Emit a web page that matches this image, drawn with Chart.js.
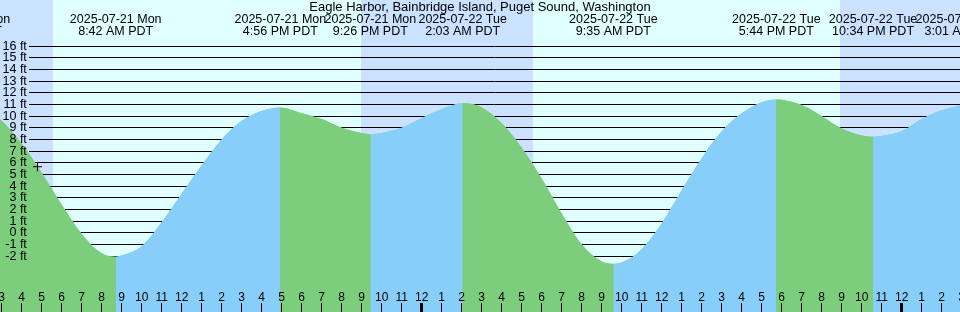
<!DOCTYPE html>
<html>
<head>
<meta charset="utf-8">
<style>
  html, body { margin: 0; padding: 0; background: #e0ffff; }
</style>
</head>
<body>
<canvas id="tideChart" width="960" height="312"></canvas>
<script src="https://cdn.jsdelivr.net/npm/chart.js@4.4.0/dist/chart.umd.min.js"></script>
<script>
const FONT = "'Liberation Sans', Arial, sans-serif";
const DAY = "#e0ffff";
const NIGHT = "#cae1ff";
const FLOOD = "#87cefa";
const EBB = "#7ccd7c";

// time axis is in hours counted from 2025-07-21 3:00 AM PDT
const tideHours = [-1, 0, 1, 2, 3, 4, 5, 5.7, 6, 7, 8, 9, 10, 11, 12, 13, 13.933,
  15, 16, 17, 18, 18.433, 19, 20, 21, 22, 23.05, 24, 25, 26, 27, 28, 29, 30, 30.583,
  31, 32, 33, 34, 35, 36, 37, 38, 38.733, 39, 40, 41, 42, 43, 43.567, 44, 45, 46, 47, 48.017];
const tideFeet = [11.0, 9.6, 7.65, 5.15, 2.4, -0.1, -1.75, -2.05, -1.95, -1.15, 0.9, 3.35, 5.8, 8.0, 9.6, 10.45, 10.75,
  10.25, 9.75, 9.0, 8.55, 8.45, 8.55, 9.0, 9.85, 10.6, 11.1, 10.75, 9.4, 7.3, 4.65, 1.65, -1.0, -2.45, -2.65,
  -2.55, -1.4, 0.8, 3.65, 6.4, 8.7, 10.25, 11.2, 11.43, 11.4, 10.95, 10.0, 8.95, 8.35, 8.23, 8.3, 8.7, 9.75, 10.5, 10.97];

// "+" mark on the curve
const markHour = [1.79];
const markFeet = [5.67];

const eventHours = [-1.87, 5.7, 13.933, 18.433, 23.05, 30.583, 38.733, 43.567, 48.017];
const eventDates = ["2025-07-21 Mon", "2025-07-21 Mon", "2025-07-21 Mon", "2025-07-21 Mon",
  "2025-07-22 Tue", "2025-07-22 Tue", "2025-07-22 Tue", "2025-07-22 Tue", "2025-07-23 Wed"];
const eventTimes = ["1:08 AM PDT", "8:42 AM PDT", "4:56 PM PDT", "9:26 PM PDT",
  "2:03 AM PDT", "9:35 AM PDT", "5:44 PM PDT", "10:34 PM PDT", "3:01 AM PDT"];

const nightStart = [-1, 17.97, 41.915];
const nightEnd = [2.57, 26.55, 49];

const hourLabels = ["3", "4", "5", "6", "7", "8", "9", "10", "11", "12", "1", "2",
  "3", "4", "5", "6", "7", "8", "9", "10", "11", "12", "1", "2",
  "3", "4", "5", "6", "7", "8", "9", "10", "11", "12", "1", "2",
  "3", "4", "5", "6", "7", "8", "9", "10", "11", "12", "1", "2", "3"];
const feetTicks = [-2, -1, 0, 1, 2, 3, 4, 5, 6, 7, 8, 9, 10, 11, 12, 13, 14, 15, 16];

const tidePoints = tideHours.map((h, i) => ({ x: h, y: tideFeet[i] }));

// axes take no room: everything is drawn over the plot like xtide does
const flat = (scale) => {
  if (scale.isHorizontal()) scale.height = 0;
  else scale.width = 0;
  scale.paddingLeft = scale.paddingRight = scale.paddingTop = scale.paddingBottom = 0;
};

const dayNight = {
  id: "dayNight",
  beforeDraw(chart) {
    const { ctx, chartArea, scales: { x } } = chart;
    ctx.save();
    ctx.fillStyle = DAY;
    ctx.fillRect(0, 0, chart.width, chart.height);
    ctx.fillStyle = NIGHT;
    nightStart.forEach((s, i) => {
      const x0 = Math.max(Math.round(x.getPixelForValue(s)), 0);
      const x1 = Math.min(Math.round(x.getPixelForValue(nightEnd[i])), chart.width);
      ctx.fillRect(x0, 0, x1 - x0, chart.height);
    });
    ctx.restore();
    // feet rules start right of the labels
    this._left = chartArea.left;
    chartArea.left = 29;
  },
  beforeDatasetsDraw(chart) {
    chart.chartArea.left = this._left;
  },
};

new Chart(document.getElementById("tideChart"), {
  type: "line",
  data: {
    datasets: [
      {
        data: markHour.map((h, i) => ({ x: h, y: markFeet[i] })),
        showLine: false,
        pointStyle: "cross",
        pointRadius: 4.5,
        pointHoverRadius: 4.5,
        borderColor: "#000",
        borderWidth: 1,
      },
      {
        // rising = flood blue, falling = ebb green
        data: tidePoints,
        borderWidth: 0,
        borderColor: "transparent",
        pointRadius: 0,
        cubicInterpolationMode: "monotone",
        fill: "start",
        backgroundColor: EBB,
        segment: {
          backgroundColor: (c) => (c.p1.parsed.y > c.p0.parsed.y ? FLOOD : EBB),
        },
      },
      {
        // plain underlay so the colour joins have no light seams
        data: tidePoints,
        borderWidth: 0,
        borderColor: "transparent",
        pointRadius: 0,
        cubicInterpolationMode: "monotone",
        fill: "start",
        backgroundColor: EBB,
      },
    ],
  },
  options: {
    responsive: false,
    devicePixelRatio: 1,
    animation: false,
    events: [],
    layout: { padding: 0, autoPadding: false },
    scales: {
      x: {
        type: "linear",
        position: "bottom",
        bounds: "data",
        min: -0.085,
        max: 47.915,
        afterBuildTicks: (s) => { s.ticks = hourLabels.map((_, i) => ({ value: i })); },
        afterFit: flat,
        ticks: {
          autoSkip: false,
          maxRotation: 0,
          mirror: true,
          padding: 8.5,
          z: 1,
          color: "#000",
          font: { family: FONT, size: 12, lineHeight: 1 },
          callback: (v, i) => hourLabels[i],
        },
        grid: {
          drawOnChartArea: false,
          drawTicks: true,
          tickLength: -9,
          z: 1,
          color: "#000",
          lineWidth: (c) => (c.tick && (c.tick.value + 3) % 24 === 0 ? 3 : 1),
        },
        border: { display: false },
      },
      x2: {
        type: "linear",
        position: "top",
        bounds: "data",
        min: -0.085,
        max: 47.915,
        afterBuildTicks: (s) => { s.ticks = eventHours.map((v) => ({ value: v })); },
        afterFit: flat,
        ticks: {
          autoSkip: false,
          maxRotation: 0,
          mirror: true,
          padding: 2.75,
          z: 1,
          color: "#000",
          font: { family: FONT, size: 12.5, lineHeight: "11.5px" },
          callback: (v, i) => [eventDates[i], eventTimes[i]],
        },
        grid: { display: false, drawTicks: false },
        border: { display: false },
      },
      y: {
        type: "linear",
        position: "left",
        bounds: "data",
        min: -6.783,
        max: 19.96,
        afterBuildTicks: (s) => { s.ticks = feetTicks.map((v) => ({ value: v })); },
        afterFit: flat,
        ticks: {
          autoSkip: false,
          mirror: true,
          crossAlign: "far",
          padding: 2.5,
          z: 1,
          color: "#000",
          font: { family: FONT, size: 12.5, lineHeight: 1 },
          callback: (v) => v + " ft",
        },
        grid: { color: "#000", lineWidth: 1, drawTicks: false },
        border: { display: false },
      },
    },
    plugins: {
      legend: { display: false },
      tooltip: { enabled: false },
      title: {
        display: true,
        text: "Eagle Harbor, Bainbridge Island, Puget Sound, Washington",
        color: "#000",
        font: { family: FONT, size: 13, weight: "normal", lineHeight: 1 },
        padding: { top: 1, bottom: -14 },
      },
    },
  },
  plugins: [dayNight],
});
</script>
</body>
</html>
